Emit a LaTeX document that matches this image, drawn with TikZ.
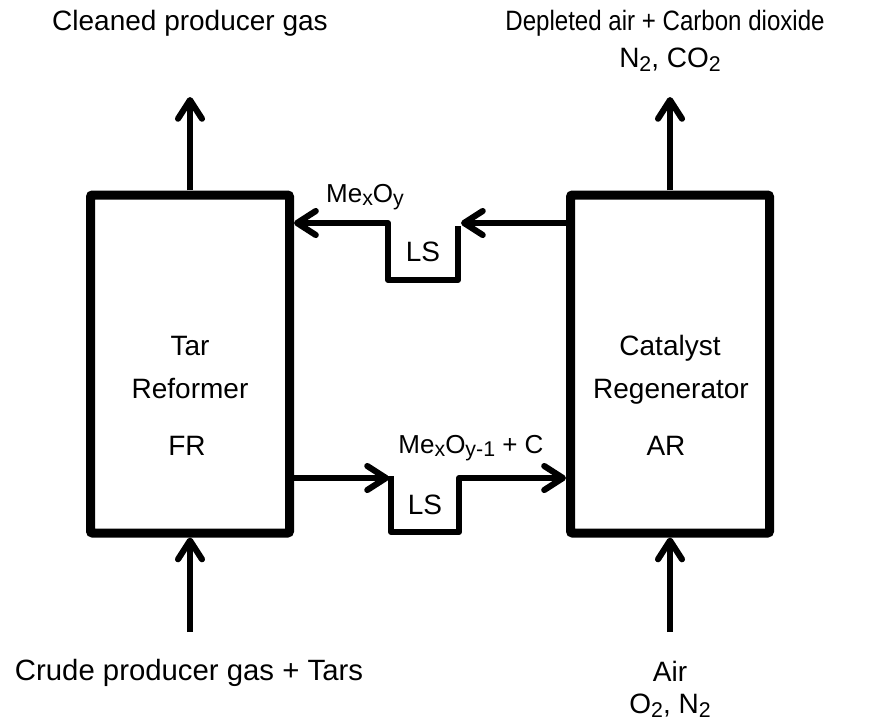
\documentclass[tikz,border=0pt]{standalone}
\usepackage{fontspec}
\setmainfont{Liberation Sans}
\usetikzlibrary{arrows.meta}
\newcommand\lsub[1]{\raisebox{-0.25ex}{\fontsize{16}{16}\selectfont #1}}
\begin{document}
\begin{tikzpicture}[x=0.75pt,y=-0.75pt,
  reactor/.style={draw, line width=6.75pt, minimum width=149.25pt, minimum height=253.5pt,
    inner sep=0pt, outer sep=3.4pt, rounded corners=1.5pt},
  lbl/.style={font=\fontsize{21}{25}\selectfont, inner sep=0pt},
  slbl/.style={font=\fontsize{19.5}{23}\selectfont, inner sep=0pt},
  flow/.style={line width=4.6pt, line join=round, -{Straight Barb[length=14pt,width=18pt,round]}},
  pipe/.style={line width=4.6pt, line join=round}
]
\fill[white] (0,0) rectangle (888,722);
\useasboundingbox (0,0) rectangle (888,722);

% reactors
\node[reactor] (fr) at (190,364) {};
\node[reactor] (ar) at (670,364) {};

% reactor labels
\node[lbl, anchor=base] (tar) at (190,355) {Tar};
\node[lbl, anchor=base] (reformer) at (190,398) {Reformer};
\node[lbl, anchor=base] (frlbl) at (187,455) {FR};
\node[lbl, anchor=base] (catalyst) at (670,355) {Catalyst};
\node[lbl, anchor=base] (regen) at (671,398) {Regenerator};
\node[lbl, anchor=base] (arlbl) at (666,455) {AR};

% stream labels
\node[lbl] (cleaned) at (190,23) {Cleaned producer gas};
\node[lbl] (depleted) at (665,23) {\scalebox{0.86}[1]{Depleted air + Carbon dioxide}};
\node[lbl] (depn2) at (670,60) {N\lsub{2}, CO\lsub{2}};
\node[lbl, font=\fontsize{22}{26}\selectfont] (crude) at (189,673) {Crude producer gas + Tars};
\node[lbl] (air) at (670,671) {Air};
\node[lbl] (airo2) at (670,706) {O\lsub{2}, N\lsub{2}};

% free ends
\coordinate (topL) at (190,97);
\coordinate (topR) at (670,97);
\coordinate (botL) at (190,632);
\coordinate (botR) at (670,632);

\draw[flow] (fr.north) -- (topL);
\draw[flow] (ar.north) -- (topR);
\draw[flow] (botL) -- (fr.south);
\draw[flow] (botR) -- (ar.south);

% upper loop seal (AR -> FR)
\coordinate (u1) at (388,223);
\coordinate (u2) at (458,226);
\coordinate (u3) at (461,223);
\node[lbl] (ls1) at (423,252) {LS};
\node[slbl] (mexoy) at (365,197) {Me\lsub{x}O\lsub{y}};
\draw[flow] (ar.west |- u3) -- (u3);
\draw[flow] (u2) |- (388,280) -- (u1) -- (u1 -| fr.east);

% lower loop seal (FR -> AR)
\coordinate (l0) at (389,478);
\coordinate (l1) at (391,476);
\coordinate (l3) at (459,478);
\node[lbl] (ls2) at (425,505) {LS};
\node[slbl] (mexoy1) at (471,448) {Me\lsub{x}O\lsub{y-1} + C};
\draw[flow] (fr.east |- l0) -- (l0);
\draw[flow] (l1) |- (459,532) -- (l3) -- (l3 -| ar.west);
\end{tikzpicture}
\end{document}
